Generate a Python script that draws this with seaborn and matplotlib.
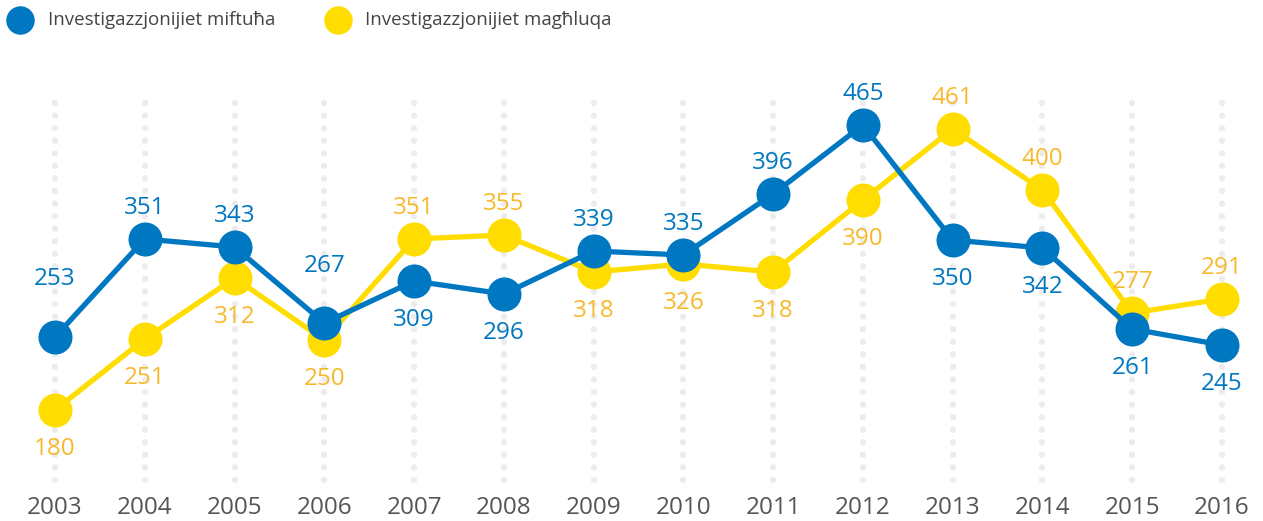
import pandas as pd
import seaborn as sns
import matplotlib.pyplot as plt

# data
years = ["2003", "2004", "2005", "2006", "2007", "2008", "2009",
         "2010", "2011", "2012", "2013", "2014", "2015", "2016"]
opened = [253, 351, 343, 267, 309, 296, 339, 335, 396, 465, 350, 342, 261, 245]
closed = [180, 251, 312, 250, 351, 355, 318, 326, 318, 390, 461, 400, 277, 291]
opened_label_above = [True, True, True, True, False, False, True,
                      True, True, True, False, False, False, False]
series_names = ["Investigazzjonijiet miftuħa", "Investigazzjonijiet magħluqa"]

blue = "#0077c1"
yellow = "#ffdd00"
yellow_txt = "#f7b92b"
grey = "#555555"

df = pd.DataFrame({"i": range(len(years)), "year": years,
                   "opened": opened, "closed": closed})

sns.set_style("white")
plt.rcParams["font.family"] = ["Open Sans", "DejaVu Sans"]

fig = plt.figure(figsize=(12.63, 5.21), dpi=100)
ax = fig.add_axes([0, 0, 1, 1])
ax.set_xlim(-0.613, 13.457)
ax.set_ylim(69, 590)
ax.axis("off")

# dotted vertical guides
ax.vlines(df["i"], 110, 495, colors="#ececec", linewidth=4.5,
          linestyles=(0, (0.01, 2.0)), capstyle="round", zorder=0)

sns.lineplot(data=df, x="i", y="closed", color=yellow, linewidth=3.8,
             marker="o", markersize=24.5, markeredgewidth=0, ax=ax, zorder=2)
sns.lineplot(data=df, x="i", y="opened", color=blue, linewidth=3.8,
             marker="o", markersize=24.5, markeredgewidth=0, ax=ax, zorder=3)

# a couple of blue labels sit higher to clear the line
extra = {0: 27, 3: 26}
off = 35
shift = -4
for k, row in df.iterrows():
    up = opened_label_above[k]
    d = off + extra.get(k, 0)
    ax.text(row["i"], row["opened"] + (d if up else -d) + shift, str(row["opened"]),
            color=blue, fontsize=17.5, ha="center", va="center")
    ax.text(row["i"], row["closed"] + (-off if up else off) + shift, str(row["closed"]),
            color=yellow_txt, fontsize=17.5, ha="center", va="center")
    ax.text(row["i"], 82, row["year"], color=grey, fontsize=17.5,
            ha="center", va="center")

# legend at the top left
for (mx, tx), c, name in zip([(20, 48), (338, 365)], [blue, yellow], series_names):
    fig.lines.append(plt.Line2D([mx / 1263], [1 - 20 / 521], transform=fig.transFigure,
                                marker="o", markersize=20.5, color=c,
                                markeredgewidth=0, linestyle="none"))
    fig.text(tx / 1263, 1 - 20 / 521, name, color="#444444", fontsize=13.5,
             ha="left", va="center")

fig.savefig("out.png", dpi=100)
